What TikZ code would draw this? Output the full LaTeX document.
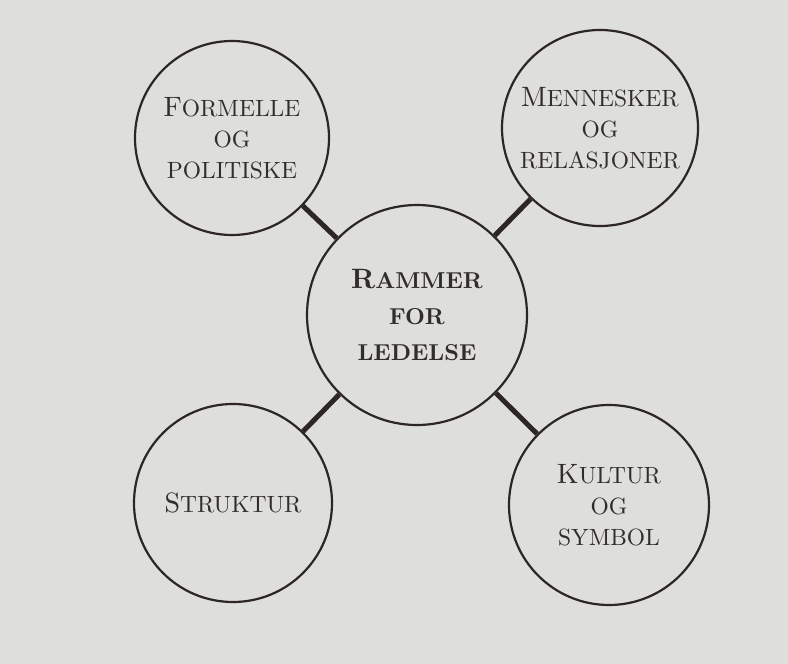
\documentclass[tikz,border=0pt]{standalone}
\usepackage{fontspec}
\setmainfont{lmroman10-regular.otf}[BoldFont=lmroman10-bold.otf]
\definecolor{paper}{RGB}{222,222,220}
\definecolor{ink}{RGB}{45,38,38}
\definecolor{txt}{RGB}{50,45,45}
\newcommand\initcap[1]{{\fontsize{28}{31}\selectfont #1}}
\tikzset{
  bubble/.style={circle, draw=ink, line width=2.2pt, minimum size=196pt, inner sep=0pt,
    align=center, text=txt, font=\fontsize{23.5}{31}\selectfont},
  hub/.style={bubble, minimum size=220pt, font=\bfseries\fontsize{23}{36}\selectfont},
  link/.style={draw=ink, line width=5pt}
}
\begin{document}
\begin{tikzpicture}[x=1pt,y=-1pt]
\fill[paper] (0,0) rectangle (788,664);
\useasboundingbox (0,0) rectangle (788,664);
\node[bubble, minimum size=194pt] (tl) at (232,138) {\initcap{F}ORMELLE\\OG\\POLITISKE};
\node[bubble, minimum size=196pt] (tr) at (600,128) {\initcap{M}ENNESKER\\OG\\RELASJONER};
\node[hub] (c) at (417,315) {\initcap{R}AMMER\\FOR\\LEDELSE};
\node[bubble, minimum size=198pt] (bl) at (233,503) {\initcap{S}TRUKTUR};
\node[bubble, minimum size=200pt] (br) at (609,505) {\initcap{K}ULTUR\\OG\\SYMBOL};
\draw[link] (tl) -- (c);
\draw[link] (tr) -- (c);
\draw[link] (bl) -- (c);
\draw[link] (br) -- (c);
\end{tikzpicture}
\end{document}
